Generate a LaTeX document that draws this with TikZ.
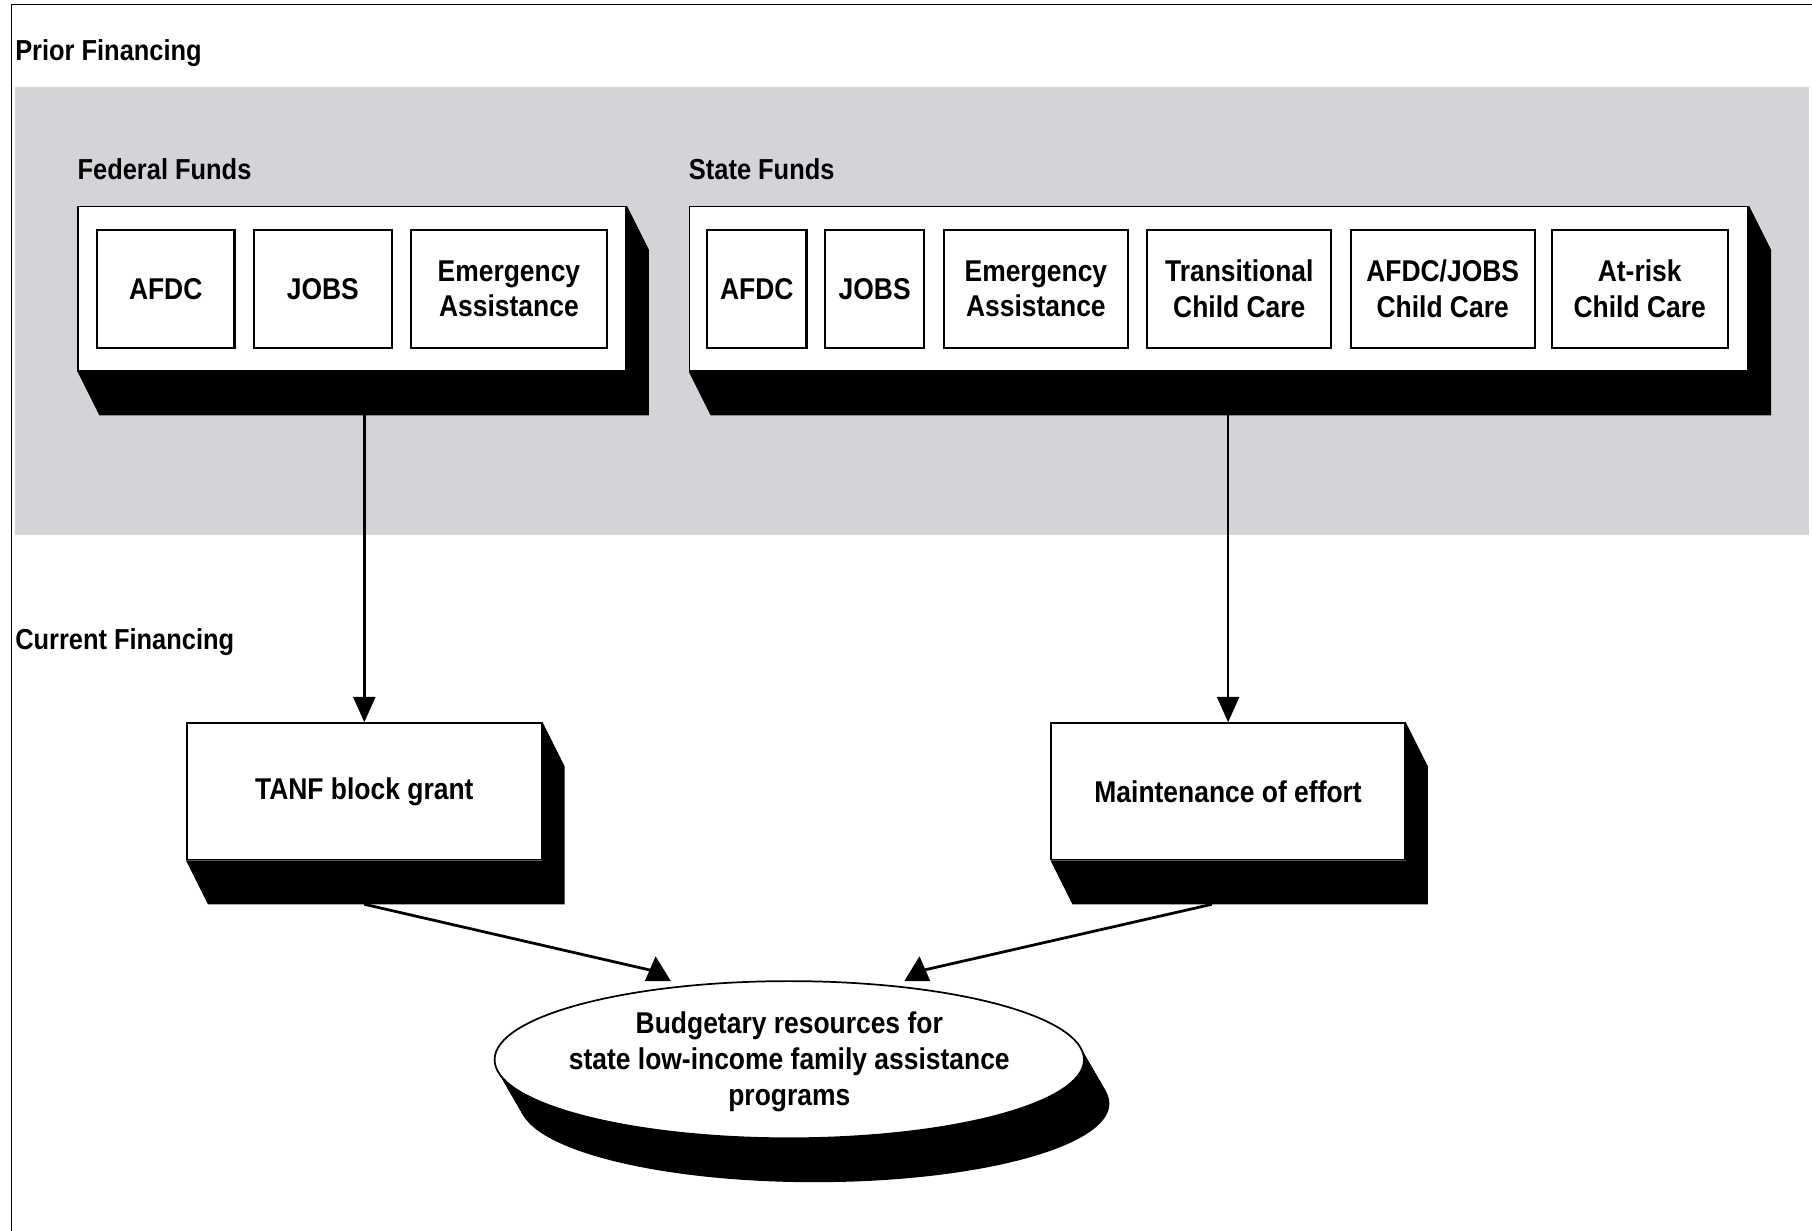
\documentclass[tikz,border=0pt]{standalone}
\usepackage{fontspec}
\setmainfont{Liberation Sans}[FakeStretch=0.88]
\usetikzlibrary{arrows.meta,shapes.geometric}
\definecolor{panelgray}{RGB}{213,211,216}
\newcommand\boxshade[1]{\fill (#1.south west) -- ++(19,38) -- ([shift={(19,38)}]#1.south east) -- ([shift={(19,38)}]#1.north east) -- (#1.north east) -- (#1.south east) -- cycle;}
\begin{document}
\begin{tikzpicture}[x=1pt,y=-1pt,
  every node/.style={font=\bfseries\fontsize{26}{31}\selectfont},
  lbl/.style={anchor=base west, inner sep=0pt, font=\bfseries\fontsize{25}{30}\selectfont},
  panel/.style={draw, fill=white, line width=1.5pt, anchor=north west, inner sep=0pt, minimum height=142pt},
  inbox/.style={draw, fill=white, line width=1.8pt, anchor=north west, inner sep=0pt, minimum height=102pt, align=center},
  cbox/.style={draw, fill=white, line width=1.5pt, anchor=north west, inner sep=0pt, minimum height=118pt, align=center},
  arr/.style={line width=2.3pt, -{Triangle[width=19pt,length=22pt]}},
  arrb/.style={line width=2.4pt},
  headtri/.style={fill=black}
]
\useasboundingbox (0,0) rectangle (1568,1065);
% frame
\draw[line width=1.5pt] (10,1065) -- (10,4) -- (1568,4);
% gray band
\fill[panelgray] (13,75) rectangle (1565,463);
% labels
\node[lbl] (pf) at (13,52) {Prior Financing};
\node[lbl] (ff) at (67,155) {Federal Funds};
\node[lbl] (sf) at (596,155) {State Funds};
\node[lbl] (cf) at (13,562) {Current Financing};
% federal panel
\node[panel, minimum width=474pt] (fed) at (67,178) {};
\boxshade{fed}
\node[inbox, minimum width=119pt] (fA) at (83,198) {AFDC};
\node[inbox, minimum width=119pt] (fJ) at (219,198) {JOBS};
\node[inbox, minimum width=169pt] (fE) at (355,198) {Emergency\\Assistance};
% state panel
\node[panel, minimum width=916pt] (st) at (596,178) {};
\boxshade{st}
\node[inbox, minimum width=86pt] (sA) at (611,198) {AFDC};
\node[inbox, minimum width=86pt] (sJ) at (713,198) {JOBS};
\node[inbox, minimum width=159pt] (sE) at (816,198) {Emergency\\Assistance};
\node[inbox, minimum width=159pt] (sT) at (992,198) {Transitional\\Child Care};
\node[inbox, minimum width=159pt] (sAJ) at (1168,198) {AFDC/JOBS\\Child Care};
\node[inbox, minimum width=152pt] (sR) at (1342,198) {At-risk\\Child Care};
% current financing boxes
\node[cbox, minimum width=307pt] (tanf) at (161,625) {TANF block grant};
\boxshade{tanf}
\node[cbox, minimum width=306pt] (maint) at (909,625) {Maintenance of effort};
\boxshade{maint}
% ellipse with shadow
\coordinate (resc) at (683,917);
\foreach \k in {0,0.025,...,1.01} \fill ([shift={(22*\k,38*\k)}]resc) ellipse [x radius=255pt, y radius=68pt];
\node[ellipse, draw, fill=white, line width=1.5pt, minimum width=510pt, minimum height=136pt, inner sep=0pt] (res) at (resc) {};
\node[align=center, inner sep=0pt] (restxt) at ([shift={(0,2)}]res.center) {Budgetary resources for\\state low-income family assistance\\programs};
% arrows
\path (fed.south) ++(0,38) coordinate (fedb);
\path (st.south) ++(0,38) coordinate (stb);
\draw[arr] (fedb -| tanf.north) -- (tanf.north);
\draw[arr] (stb -| maint.north) -- (maint.north);
\path (tanf.south) ++(0,38) coordinate (tanfb);
\path (maint.south) ++(-14,38) coordinate (maintb);
% arrow heads resting on the ellipse
\coordinate (hl) at ([shift={(-114,-68)}]res.center);
\coordinate (hr) at ([shift={(111,-68)}]res.center);
\draw[arrb] (tanfb) -- ([shift={(-4,-9)}]hl);
\draw[arrb] (maintb) -- ([shift={(3,-9)}]hr);
\fill[headtri] ([shift={(-11,0)}]hl) -- ([shift={(11.5,0)}]hl) -- ([shift={(-1.7,-21.5)}]hl) -- cycle;
\fill[headtri] ([shift={(11,0)}]hr) -- ([shift={(-11.5,0)}]hr) -- ([shift={(1.7,-21.5)}]hr) -- cycle;
\end{tikzpicture}
\end{document}
